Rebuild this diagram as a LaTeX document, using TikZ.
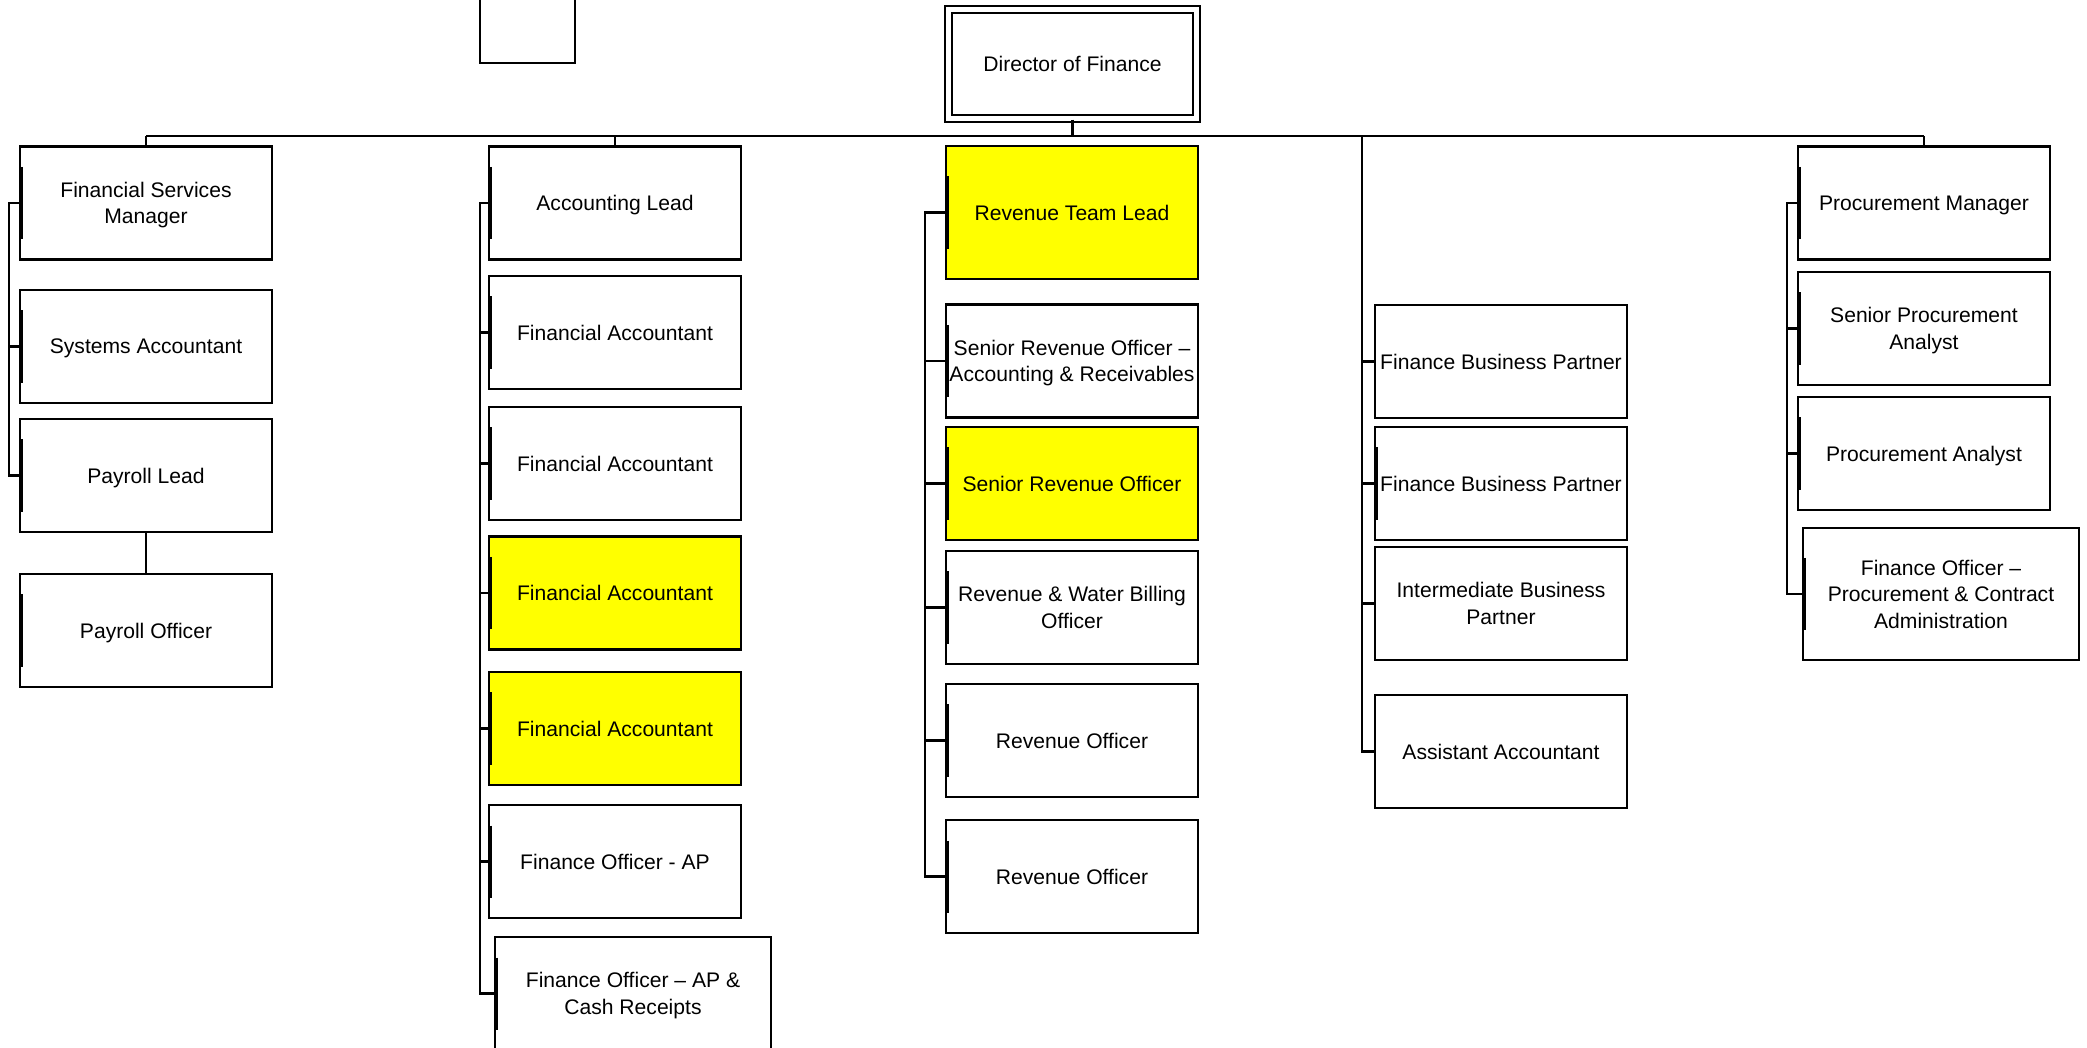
\documentclass[tikz,border=0pt]{standalone}
\usepackage{fontspec}
\setmainfont{Liberation Sans}
\usepackage{tikz}
\usetikzlibrary{positioning,calc}
\definecolor{hiYellow}{RGB}{255,255,0}
\tikzset{
  post/.style={draw, line width=0.6pt, minimum width=2.52cm, minimum height=1.13cm,
    inner sep=1pt, align=center, text depth=0pt, font=\fontsize{6}{7.5}\selectfont},
  hot/.style={post, fill=hiYellow},
  barred/.style={path picture={\draw[line width=1.2pt]
    ([shift={(0.3pt,0.36cm)}]path picture bounding box.west) --
    ([shift={(0.3pt,-0.36cm)}]path picture bounding box.west);}},
  link/.style={line width=0.6pt}
}

\begin{document}
\begin{tikzpicture}[x=0.01cm, y=-0.01cm]
\useasboundingbox (0,0) rectangle (2087,1047);

% top
\node[draw, line width=0.6pt, minimum width=0.95cm, minimum height=0.72cm] (blank) at (527.5,27) {};
\node[post, barred, double, double distance=1.4pt, minimum width=2.485cm, minimum height=1.09cm] (dir) at (1072.5,64) {Director of Finance};

% financial services
\node[post, barred] (fsm) at (146,203) {Financial Services\\Manager};
\node[post, barred] (sysacc) at (146,346.5) {Systems Accountant};
\node[post, barred] (pl) at (146,475.5) {Payroll Lead};
\node[post, barred] (po) at (146,630.5) {Payroll Officer};

% accounting
\node[post, barred] (al) at (615,203) {Accounting Lead};
\node[post, barred] (fa1) at (615,332.5) {Financial Accountant};
\node[post, barred] (fa2) at (615,463.5) {Financial Accountant};
\node[hot, barred] (fa3) at (615,593) {Financial Accountant};
\node[hot, barred] (fa4) at (615,728.5) {Financial Accountant};
\node[post, barred] (foap) at (615,861.5) {Finance Officer - AP};
\node[post, barred, minimum width=2.76cm] (foapcr) at (633,993.5) {Finance Officer -- AP \&\\Cash Receipts};

% revenue
\node[hot, barred, minimum height=1.33cm] (rtl) at (1072,212.5) {Revenue Team Lead};
\node[post, barred] (sroar) at (1072,361) {Senior Revenue Officer --\\Accounting \& Receivables};
\node[hot, barred] (sro) at (1072,483.5) {Senior Revenue Officer};
\node[post, barred] (rwbo) at (1072,607.5) {Revenue \& Water Billing\\Officer};
\node[post, barred] (ro1) at (1072,740.5) {Revenue Officer};
\node[post, barred] (ro2) at (1072,876.5) {Revenue Officer};

% business partners
\node[post] (fbp1) at (1501,361.5) {Finance Business Partner};
\node[post, barred] (fbp2) at (1501,483.5) {Finance Business Partner};
\node[post] (ibp) at (1501,603.5) {Intermediate Business\\Partner};
\node[post] (aa) at (1501,751.5) {Assistant Accountant};

% procurement
\node[post, barred] (pm) at (1924,203) {Procurement Manager};
\node[post, barred] (spa) at (1924,328.5) {Senior Procurement\\Analyst};
\node[post, barred] (pa) at (1924,453.5) {Procurement Analyst};
\node[post, barred, minimum width=2.76cm, minimum height=1.32cm] (fopc) at (1941,594) {Finance Officer --\\Procurement \& Contract\\Administration};

% bus
\coordinate (busL) at (146,136);
\coordinate (busR) at (1924,136);
\draw[link] (busL) -- (busR);
\draw[link] (dir.south) -- (dir.south |- busL);
\draw[link] (busL) -- (fsm.north);
\draw[link] (al.north |- busL) -- (al.north);
\draw[link] (busR) -- (pm.north);

% spines
\coordinate (spA) at (9,0);
\coordinate (spB) at (480,0);
\coordinate (spC) at (925,0);
\coordinate (spD) at (1362,136);
\coordinate (spE) at (1787,0);

\draw[link] (fsm.west) -- (fsm.west -| spA) -- (pl.west -| spA) -- (pl.west);
\draw[link] (sysacc.west) -- (sysacc.west -| spA);
\draw[link] (pl) -- (po);

\draw[link] (al.west) -- (al.west -| spB) -- (foapcr.west -| spB) -- (foapcr.west);
\foreach \n in {fa1,fa2,fa3,fa4,foap}
  \draw[link] (\n.west) -- (\n.west -| spB);

\draw[link] (rtl.west) -- (rtl.west -| spC) -- (ro2.west -| spC) -- (ro2.west);
\foreach \n in {sroar,sro,rwbo,ro1}
  \draw[link] (\n.west) -- (\n.west -| spC);

\draw[link] (spD) |- (aa.west);
\foreach \n in {fbp1,fbp2,ibp}
  \draw[link] (\n.west) -- (\n.west -| spD);

\draw[link] (pm.west) -- (pm.west -| spE) -- (fopc.west -| spE) -- (fopc.west);
\foreach \n in {spa,pa}
  \draw[link] (\n.west) -- (\n.west -| spE);
\end{tikzpicture}
\end{document}
